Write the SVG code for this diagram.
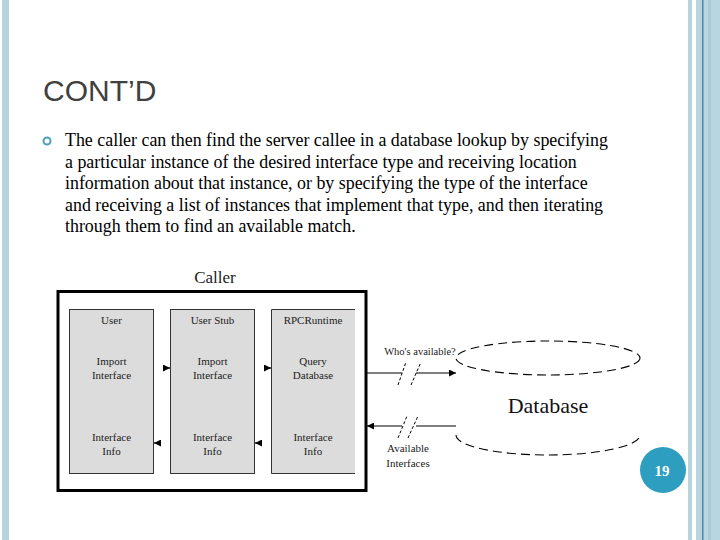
<svg xmlns="http://www.w3.org/2000/svg" width="720" height="540" viewBox="0 0 720 540">
<defs>
<style>
.title{font-family:"Liberation Sans",Arial,sans-serif;font-size:30px;fill:#404040}
.body{font-family:"Liberation Serif","Times New Roman",serif;font-size:17.9px;fill:#000}
.lbl{font-family:"Liberation Serif","Times New Roman",serif;font-size:11px;fill:#222;text-anchor:middle}
.cap{font-family:"Liberation Serif","Times New Roman",serif;font-size:17px;fill:#222;text-anchor:middle}
.dbt{font-family:"Liberation Serif","Times New Roman",serif;font-size:22px;fill:#111;text-anchor:middle}
.pg{font-family:"Liberation Serif","Times New Roman",serif;font-size:15px;font-weight:bold;fill:#fff;text-anchor:middle}
.box{fill:#dcdcdc;stroke:#333;stroke-width:1}
.wire{stroke:#000;stroke-width:1.2;fill:none}
.slash{stroke:#000;stroke-width:1;stroke-dasharray:3 2;fill:none}
.db{stroke:#000;stroke-width:1.1;fill:none;stroke-dasharray:9 5}
</style>
<marker id="ah" viewBox="0 0 10 10" refX="10" refY="5" markerWidth="7" markerHeight="7" markerUnits="userSpaceOnUse" orient="auto">
<path d="M0,0 L10,5 L0,10 z" fill="#000"/>
</marker>
</defs>
<rect width="720" height="540" fill="#fff"/>
<g id="frame">
<rect x="2" y="0" width="7" height="540" fill="#b3d3df"/>
<rect x="688" y="0" width="4" height="540" fill="#b3d3df"/>
<rect x="696" y="0" width="24" height="540" fill="#b9d6e0"/>
<rect x="708" y="0" width="3" height="540" fill="#a9cbd6"/>
<rect x="702" y="0" width="1.5" height="540" fill="#4a8aa6"/>
</g>
<g id="heading">
<text class="title" x="43" y="101">CONT’D</text>
</g>
<g id="bullet">
<circle cx="47" cy="141" r="3.5" fill="none" stroke="#4e9fb5" stroke-width="2"/>
<text class="body" x="65" y="146">The caller can then find the server callee in a database lookup by specifying</text>
<text class="body" x="65" y="168">a particular instance of the desired interface type and receiving location</text>
<text class="body" x="65" y="189">information about that instance, or by specifying the type of the interface</text>
<text class="body" x="65" y="211">and receiving a list of instances that implement that type, and then iterating</text>
<text class="body" x="65" y="232">through them to find an available match.</text>
</g>
<g id="caller">
<text class="cap" x="215" y="283">Caller</text>
<rect x="58" y="291.5" width="308" height="199" fill="#fff" stroke="#000" stroke-width="3"/>
</g>
<g id="user">
<rect class="box" x="69.5" y="309.5" width="84" height="164"/>
<text class="lbl" x="111.5" y="324">User</text>
<text class="lbl" x="111.5" y="365">Import</text>
<text class="lbl" x="111.5" y="379">Interface</text>
<text class="lbl" x="111.5" y="441">Interface</text>
<text class="lbl" x="111.5" y="455">Info</text>
</g>
<g id="userstub">
<rect class="box" x="170.5" y="309.5" width="84" height="164"/>
<text class="lbl" x="212.5" y="324">User Stub</text>
<text class="lbl" x="212.5" y="365">Import</text>
<text class="lbl" x="212.5" y="379">Interface</text>
<text class="lbl" x="212.5" y="441">Interface</text>
<text class="lbl" x="212.5" y="455">Info</text>
</g>
<g id="rpcruntime">
<rect x="271" y="309.5" width="84" height="164" fill="#dcdcdc"/>
<path d="M355,309.5 H271.5 V473.5 H355" fill="none" stroke="#333" stroke-width="1"/>
<text class="lbl" x="313" y="324">RPCRuntime</text>
<text class="lbl" x="313" y="365">Query</text>
<text class="lbl" x="313" y="379">Database</text>
<text class="lbl" x="313" y="441">Interface</text>
<text class="lbl" x="313" y="455">Info</text>
</g>
<g id="database">
<ellipse class="db" cx="548" cy="358" rx="92" ry="17"/>
<path class="db" d="M456,435 A92,20 0 0 0 640,435"/>
<text class="dbt" x="548" y="413">Database</text>
</g>
<g id="connectors">
<path class="wire" d="M163,368 L170,368" marker-end="url(#ah)"/>
<path class="wire" d="M264,368 L271,368" marker-end="url(#ah)"/>
<path class="wire" d="M161,443 L154,443" marker-end="url(#ah)"/>
<path class="wire" d="M262,443 L255,443" marker-end="url(#ah)"/>
<path class="wire" d="M366,373 H402"/>
<path class="wire" d="M416,373 H456" marker-end="url(#ah)"/>
<path class="slash" d="M398,385 L406,362 M411,385 L421,362"/>
<path class="wire" d="M402,426 H367" marker-end="url(#ah)"/>
<path class="wire" d="M416,426 H456"/>
<path class="slash" d="M398,438 L407,416 M408,438 L418,416"/>
<text class="lbl" x="420" y="355" style="font-size:10.5px">Who's available?</text>
<text class="lbl" x="408" y="452">Available</text>
<text class="lbl" x="408" y="467">Interfaces</text>
</g>
<g id="pagenum">
<circle cx="663" cy="470" r="23" fill="#2e9ec0"/>
<text class="pg" x="662" y="476">19</text>
</g>
</svg>
